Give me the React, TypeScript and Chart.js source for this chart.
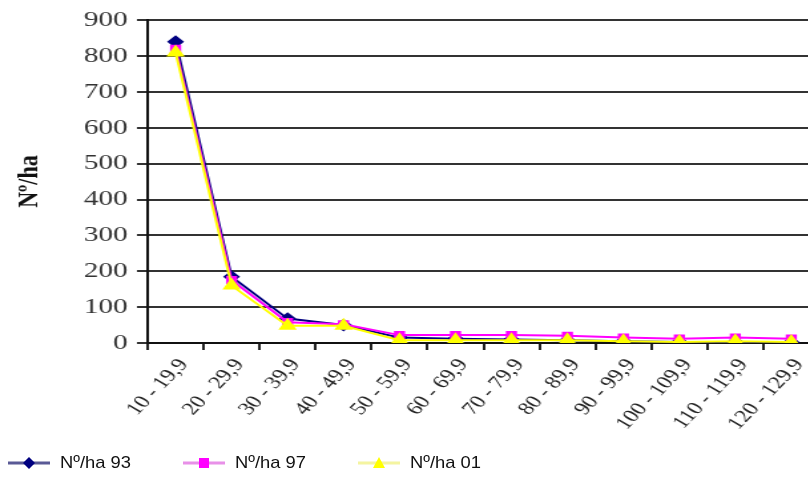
import React, { useEffect, useRef } from "react";
import { Chart, registerables } from "chart.js";

Chart.register(...registerables);

const categories = [
  "10 - 19,9",
  "20 - 29,9",
  "30 - 39,9",
  "40 - 49,9",
  "50 - 59,9",
  "60 - 69,9",
  "70 - 79,9",
  "80 - 89,9",
  "90 - 99,9",
  "100 - 109,9",
  "110 - 119,9",
  "120 - 129,9",
];
const ha93 = [840, 185, 68, 50, 15, 12, 10, 8, 5, 3, 3, 2];
const ha97 = [820, 175, 58, 52, 22, 22, 22, 20, 15, 12, 15, 12];
const ha01 = [810, 160, 48, 48, 8, 8, 8, 8, 5, 3, 5, 3];
const seriesNames = ["Nº/ha 93", "Nº/ha 97", "Nº/ha 01"];
const yTitle = "Nº/ha";

const SERIF = "'Liberation Serif', 'Times New Roman', serif";
const SANS = "'Liberation Sans', Arial, sans-serif";

// the original picture is stretched horizontally
const STRETCH = 1.33;
const CANVAS_W = 624;
const CANVAS_H = 489;

export default function App() {
  const ref = useRef<HTMLCanvasElement | null>(null);

  useEffect(() => {
    if (!ref.current) return;
    const chart = new Chart(ref.current, {
      type: "line",
      data: {
        labels: categories,
        datasets: [
          {
            label: seriesNames[0],
            data: ha93,
            borderColor: "#000080",
            backgroundColor: "#000080",
            borderWidth: 2,
            pointStyle: "rectRot",
            pointRadius: 5,
            order: 3,
          },
          {
            label: seriesNames[1],
            data: ha97,
            borderColor: "#ff00ff",
            backgroundColor: "#ff00ff",
            borderWidth: 2,
            pointStyle: "rect",
            pointRadius: 4.5,
            order: 2,
          },
          {
            label: seriesNames[2],
            data: ha01,
            borderColor: "#ffff00",
            backgroundColor: "#ffff00",
            borderWidth: 2,
            pointStyle: "triangle",
            pointRadius: 6,
            order: 1,
          },
        ],
      },
      options: {
        responsive: false,
        animation: false,
        layout: { padding: { left: 6, top: 19, right: 8, bottom: 46 } },
        plugins: { legend: { display: false }, tooltip: { enabled: false } },
        scales: {
          x: {
            offset: true,
            grid: {
              offset: true,
              drawOnChartArea: false,
              drawTicks: true,
              tickLength: 7,
              color: "#222",
              lineWidth: 2,
            },
            border: { color: "#111", width: 2 },
            ticks: {
              minRotation: 53,
              maxRotation: 53,
              autoSkip: false,
              color: "#222",
              padding: 5,
              labelOffset: 6,
              font: { family: SERIF, size: 18 },
            },
            afterFit: (s: any) => {
              s.height = 100;
            },
          },
          y: {
            min: 0,
            max: 900,
            ticks: {
              stepSize: 100,
              color: "#333",
              padding: 7,
              font: { family: SERIF, size: 22 },
            },
            grid: { color: "#333", lineWidth: 2, tickLength: 8 },
            border: { color: "#111", width: 2 },
            title: {
              display: true,
              text: yTitle,
              color: "#111",
              font: { family: SERIF, size: 22, weight: "bold" },
              padding: { top: 3, bottom: 10 },
            },
            afterFit: (s: any) => {
              s.width = 105;
            },
          },
        },
      },
    });
    return () => chart.destroy();
  }, []);

  const legendItems = [
    { x: 8, line: "#5a5a96", color: "#000080", shape: "diamond" },
    { x: 183, line: "#e890e8", color: "#ff00ff", shape: "square" },
    { x: 358, line: "#f4f4a0", color: "#ffff00", shape: "triangle" },
  ];

  return (
    <div
      style={{
        position: "fixed",
        left: 0,
        top: 0,
        width: 808,
        height: 489,
        overflow: "hidden",
        background: "#fff",
      }}
    >
      <canvas
        ref={ref}
        width={CANVAS_W}
        height={CANVAS_H}
        style={{
          display: "block",
          width: CANVAS_W,
          height: CANVAS_H,
          transform: `scaleX(${STRETCH})`,
          transformOrigin: "0 0",
        }}
      />
      {legendItems.map((it, i) => (
        <div
          key={i}
          style={{
            position: "absolute",
            left: it.x,
            top: 451,
            height: 24,
            display: "flex",
            alignItems: "center",
          }}
        >
          <svg width={44} height={24} style={{ display: "block" }}>
            <line x1={0} y1={12} x2={42} y2={12} stroke={it.line} strokeWidth={3} />
            {it.shape === "diamond" && (
              <polygon points="21,6 27,12 21,18 15,12" fill={it.color} />
            )}
            {it.shape === "square" && (
              <rect x={16} y={7} width={10} height={10} fill={it.color} />
            )}
            {it.shape === "triangle" && (
              <polygon points="21,6 27,17 15,17" fill={it.color} />
            )}
          </svg>
          <span
            style={{
              marginLeft: 8,
              fontFamily: SANS,
              fontSize: 17,
              color: "#111",
              whiteSpace: "nowrap",
              display: "inline-block",
              transform: "scaleX(1.08)",
              transformOrigin: "0 50%",
            }}
          >
            {seriesNames[i]}
          </span>
        </div>
      ))}
    </div>
  );
}
